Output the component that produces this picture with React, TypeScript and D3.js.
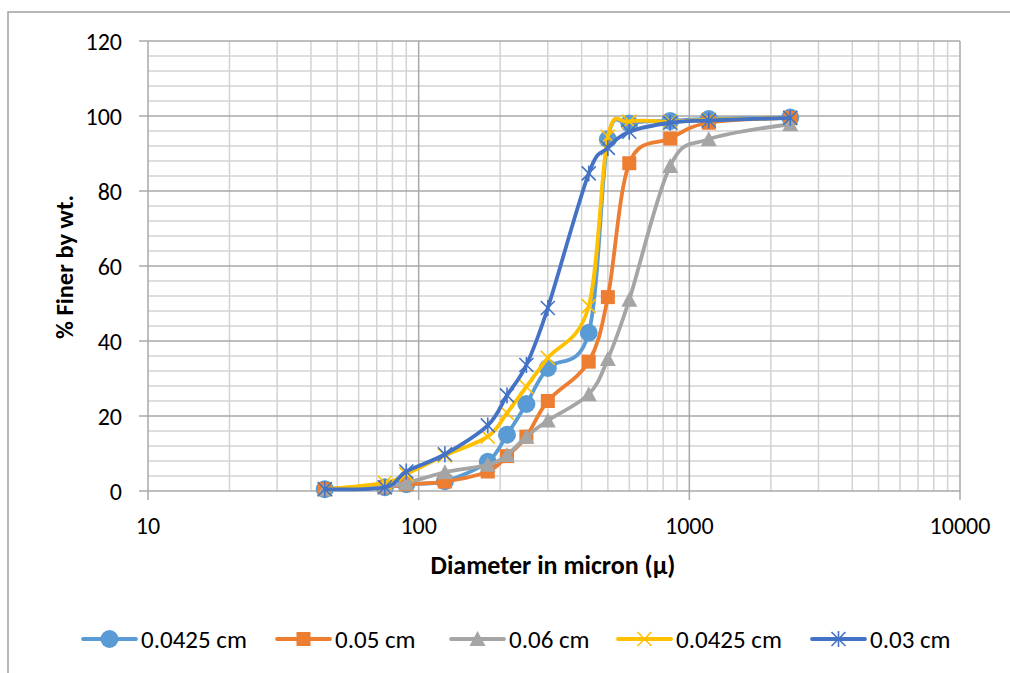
import * as React from "react";
import * as d3 from "d3";

// sieve sizes (micron) and % finer for each sample
const sizes = [45, 75, 90, 125, 180, 212, 250, 300, 425, 500, 600, 850, 1180, 2360];
const s1 = [0.5, 1.0, 1.8, 2.6, 7.8, 15, 23.2, 32.8, 42.2, 93.8, 98, 98.7, 99.2, 99.6];
const s2 = [0.5, 1.0, 1.8, 2.5, 5.2, 9.3, 14.5, 24, 34.5, 51.7, 87.4, 94, 98.2, 99.5];
const s3 = [0.5, 1.2, 2.1, 5.0, 7.0, 9.6, 14.5, 18.8, 25.8, 35.2, 51, 86.7, 93.8, 97.8];
const s4 = [0.5, 2.2, 4.5, 9.5, 14.5, 20.8, 27.8, 35.5, 49.3, 94.5, 98.5, 98.5, 99, 99.5];
const s5 = [0.5, 1.0, 5.2, 9.8, 17.5, 25.5, 33.6, 48.8, 84.7, 91.5, 95.8, 98.2, 98.8, 99.5];

const seriesNames = ["0.0425 cm", "0.05 cm", "0.06 cm", "0.0425 cm", "0.03 cm"];
const seriesValues = [s1, s2, s3, s4, s5];
const seriesColors = ["#5B9BD5", "#ED7D31", "#A5A5A5", "#FFC000", "#4472C4"];
const seriesMarkers = ["circle", "square", "triangle", "x", "star"];

const xTicks = [10, 100, 1000, 10000];
const yTicks = [0, 20, 40, 60, 80, 100, 120];

const FONT = "Carlito, Lato, sans-serif";

function Marker({ kind, x, y, color }: { kind: string; x: number; y: number; color: string }) {
  if (kind === "circle") return <circle cx={x} cy={y} r={9} fill={color} />;
  if (kind === "square") return <rect x={x - 7} y={y - 7} width={14} height={14} fill={color} />;
  if (kind === "triangle")
    return <path d={`M${x},${y - 8}L${x + 8},${y + 7}L${x - 8},${y + 7}Z`} fill={color} />;
  if (kind === "x")
    return (
      <path d={`M${x - 7},${y - 7}L${x + 7},${y + 7}M${x - 7},${y + 7}L${x + 7},${y - 7}`}
        stroke={color} strokeWidth={1.6} fill="none" />
    );
  return (
    <path
      d={`M${x - 7},${y - 7}L${x + 7},${y + 7}M${x - 7},${y + 7}L${x + 7},${y - 7}M${x},${y - 8}L${x},${y + 8}`}
      stroke={color} strokeWidth={1.6} fill="none" />
  );
}

export default function App() {
  const x = d3.scaleLog().domain([10, 10000]).range([148, 960]);
  const y = d3.scaleLinear().domain([0, 120]).range([491, 41]);

  const minorX: number[] = [];
  [10, 100, 1000].forEach((d) => {
    for (let k = 2; k <= 9; k++) minorX.push(d * k);
  });
  const minorY = d3.range(0, 121, 4).filter((v) => v % 20 !== 0);

  const line = d3
    .line<number>()
    .x((_, i) => x(sizes[i]))
    .y((v) => y(v))
    .curve(d3.curveCardinal.tension(0));

  const legendX = [83, 277, 451, 618, 812];

  return (
    <svg width={1010} height={673} style={{ position: "absolute", left: 0, top: 0 }}
      fontFamily={FONT}>
      <rect x={0} y={0} width={1010} height={673} fill="#fff" />
      <rect x={8} y={12} width={1020} height={680} fill="none" stroke="#a0a0a0" strokeWidth={1.5} />

      {/* gridlines */}
      {minorY.map((v) => (
        <line key={"gy" + v} x1={148} x2={960} y1={y(v)} y2={y(v)} stroke="#d3d3d3" strokeWidth={1.5} />
      ))}
      {minorX.map((v) => (
        <line key={"gx" + v} x1={x(v)} x2={x(v)} y1={41} y2={491} stroke="#d3d3d3" strokeWidth={1.5} />
      ))}
      {yTicks.map((v) => (
        <line key={"my" + v} x1={139} x2={960} y1={y(v)} y2={y(v)} stroke="#a8a8a8" strokeWidth={1.5} />
      ))}
      {xTicks.map((v) => (
        <line key={"mx" + v} x1={x(v)} x2={x(v)} y1={41} y2={500} stroke="#a8a8a8" strokeWidth={1.5} />
      ))}

      {/* tick labels */}
      {yTicks.map((v) => (
        <text key={"ty" + v} x={122} y={y(v)} dy="0.36em" textAnchor="end" fontSize={24} fill="#000">
          {v}
        </text>
      ))}
      {xTicks.map((v) => (
        <text key={"tx" + v} x={x(v)} y={534} textAnchor="middle" fontSize={24} fill="#000">
          {v}
        </text>
      ))}

      {/* axis titles */}
      <text x={553} y={574} textAnchor="middle" fontSize={26} fontWeight="bold">
        Diameter in micron (μ)
      </text>
      <text transform="translate(73,267) rotate(-90)" textAnchor="middle" fontSize={24.5} fontWeight="bold">
        % Finer by wt.
      </text>

      {/* series */}
      {seriesValues.map((vals, si) => (
        <g key={"s" + si}>
          <path d={line(vals) || ""} fill="none" stroke={seriesColors[si]} strokeWidth={3.8}
            strokeLinejoin="round" strokeLinecap="round" />
          {vals.map((v, i) => (
            <Marker key={i} kind={seriesMarkers[si]} x={x(sizes[i])} y={y(v)} color={seriesColors[si]} />
          ))}
        </g>
      ))}

      {/* legend */}
      {seriesNames.map((name, si) => (
        <g key={"l" + si} transform={`translate(${legendX[si]},639)`}>
          <line x1={0} x2={53} y1={0} y2={0} stroke={seriesColors[si]} strokeWidth={3.8} strokeLinecap="round" />
          <Marker kind={seriesMarkers[si]} x={26.5} y={0} color={seriesColors[si]} />
          <text x={58} y={0} dy="0.36em" fontSize={25} fill="#000">
            {name}
          </text>
        </g>
      ))}
    </svg>
  );
}
